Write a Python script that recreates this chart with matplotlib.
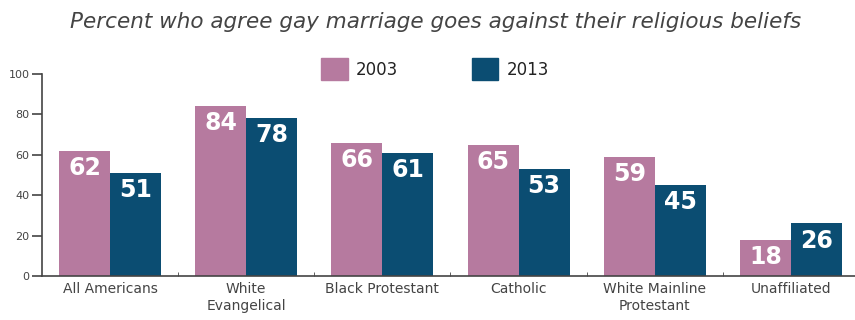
import matplotlib
matplotlib.use('Agg')
from matplotlib import pyplot as plt
from matplotlib.patches import Patch
import numpy as np

categories = ['All Americans', 'White\nEvangelical', 'Black Protestant', 'Catholic',
              'White Mainline\nProtestant', 'Unaffiliated']
vals_2003 = [62, 84, 66, 65, 59, 18]
vals_2013 = [51, 78, 61, 53, 45, 26]
series_names = ['2003', '2013']

pink = '#b67a9f'
blue = '#0b4d72'
grey = '#444444'

plt.rcParams['font.family'] = ['DejaVu Sans']

fig = plt.figure(figsize=(8.55, 3.2), dpi=100)
ax = fig.add_axes([0.049, 0.1375, 0.951, 0.63125])

x = np.arange(len(categories))
w = 0.375
b1 = ax.bar(x - w / 2, vals_2003, w, color=pink)
b2 = ax.bar(x + w / 2, vals_2013, w, color=blue)

for bars in (b1, b2):
    for bar in bars:
        h = bar.get_height()
        ax.text(bar.get_x() + bar.get_width() / 2, h - 2.5, str(int(h)),
                ha='center', va='top', color='white', fontsize=17, fontweight='bold')

ax.set_xlim(-0.5, 5.47)
ax.set_ylim(0, 100)
ax.set_yticks(range(0, 101, 20))
ax.set_xticks(x)
ax.set_xticklabels(categories, fontsize=10, color=grey, linespacing=1.3)
ax.set_xticks(np.arange(0.5, 5, 1), minor=True)
ax.tick_params(axis='x', which='major', length=0, pad=4)
ax.tick_params(axis='x', which='minor', length=3, direction='in', color=grey)
ax.tick_params(axis='y', length=7, width=1.2, color=grey, labelsize=8, labelcolor=grey, pad=2)
for s in ['top', 'right']:
    ax.spines[s].set_visible(False)
for s in ['left', 'bottom']:
    ax.spines[s].set_color(grey)
    ax.spines[s].set_linewidth(1.2)

fig.text(0.509, 0.93, 'Percent who agree gay marriage goes against their religious beliefs',
         ha='center', va='center', fontsize=15.5, style='italic', color='#444444')

handles = [Patch(color=pink), Patch(color=blue)]
fig.legend(handles, series_names, loc='center', bbox_to_anchor=(0.509, 0.784), ncol=2,
           frameon=False, fontsize=12, handlelength=1.6, handleheight=1.6,
           columnspacing=4.4, handletextpad=0.5, labelcolor='#222222')

fig.savefig('out.png', dpi=100)
